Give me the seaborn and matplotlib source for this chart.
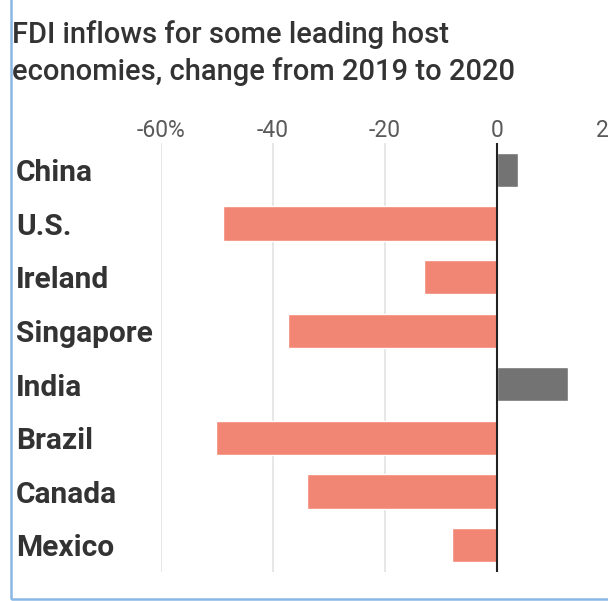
import matplotlib
matplotlib.use("Agg")
import matplotlib.pyplot as plt
import matplotlib.transforms as mtransforms
from matplotlib.patches import Rectangle
import pandas as pd
import seaborn as sns

# data
countries = ["China", "U.S.", "Ireland", "Singapore", "India", "Brazil", "Canada", "Mexico"]
change_pct = [3.7, -49, -13, -37.3, 12.6, -50.1, -34, -8]
tick_values = [-60, -40, -20, 0, 20]
tick_labels = ["-60%", "-40", "-20", "0", "20"]
title = "FDI inflows for some leading host\neconomies, change from 2019 to 2020"

df = pd.DataFrame({"country": countries, "change": change_pct})
df["sign"] = ["up" if v >= 0 else "down" for v in df["change"]]

sns.set_style("white")
plt.rcParams["font.family"] = ["Roboto", "DejaVu Sans"]

W, H = 608, 601
fig = plt.figure(figsize=(W / 100, H / 100), dpi=100)
ax = fig.add_axes([161 / W, 1 - 572 / H, 448 / W, 429 / H])

sns.barplot(data=df, x="change", y="country", hue="sign", orient="h",
            palette={"up": "#737373", "down": "#f28674"}, dodge=False,
            width=0.64, legend=False, ax=ax, saturation=1)

ax.set_xlim(-60, 20)
ax.set_ylim(len(countries) - 0.5, -0.5)
for v in tick_values:
    ax.axvline(v, color="#e3e3e3", lw=1.2, zorder=0)
ax.axvline(0, color="#222222", lw=1.5, zorder=3)

ax.xaxis.tick_top()
ax.set_xticks(tick_values)
ax.set_xticklabels(tick_labels, fontsize=16.5, color="#5a5a5a")
ax.tick_params(axis="x", length=0, pad=1)
ax.set_yticks([])
ax.set_xlabel("")
ax.set_ylabel("")
for s in ax.spines.values():
    s.set_visible(False)

# country labels at the left edge
trans = mtransforms.blended_transform_factory(fig.transFigure, ax.transData)
for i, c in enumerate(countries):
    ax.text(16 / W, i + 0.06, c, transform=trans, ha="left", va="center",
            fontsize=21.5, fontweight="bold", color="#333333")

fig.text(12 / W, 1 - 20 / H, title, ha="left", va="top",
         fontsize=21, fontweight="medium", color="#333333", linespacing=1.38)

# light blue frame around the graphic
fig.patches.append(Rectangle((11 / W, 2 / H), 1.05, 1.0, transform=fig.transFigure,
                             fill=False, edgecolor="#8ab8e6", lw=1.8))

fig.savefig("out.png", dpi=100)
